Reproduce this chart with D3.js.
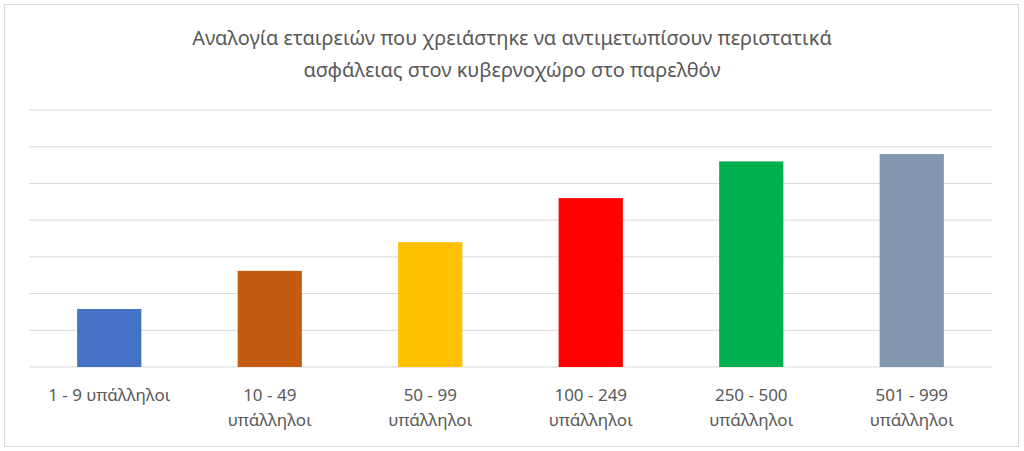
<!DOCTYPE html>
<html><head><meta charset="utf-8">
<script src="https://cdn.jsdelivr.net/npm/d3@7"></script>
<style>body{margin:0;background:#fff}text{font-family:"Noto Sans","Liberation Sans",sans-serif}</style>
</head><body>
<script>
// data (gridline step = 5)
var categories = ["1 - 9 υπάλληλοι", "10 - 49 υπάλληλοι", "50 - 99 υπάλληλοι", "100 - 249 υπάλληλοι", "250 - 500 υπάλληλοι", "501 - 999 υπάλληλοι"]
var values = [7.9, 13.1, 17.0, 23.0, 28.0, 29.0]
var colors = ["#4472c4", "#c55a11", "#ffc000", "#ff0000", "#00b050", "#8497b0"]
var ticks = [0, 5, 10, 15, 20, 25, 30, 35]

var W = 1024, H = 451
var svg = d3.select("body").append("svg").attr("width", W).attr("height", H)
svg.append("rect").attr("x", 4.5).attr("y", 4.5).attr("width", 1014).attr("height", 442)
  .attr("fill", "#fff").attr("stroke", "#d9d9d9")

var x = d3.scaleBand().domain(categories).range([29, 992]).paddingInner(0.6).paddingOuter(0.3)
var y = d3.scaleLinear().domain([0, 35]).range([367, 110])

svg.selectAll(".grid").data(ticks).enter().append("line")
  .attr("x1", 29).attr("x2", 992)
  .attr("y1", function(d){ return y(d) }).attr("y2", function(d){ return y(d) })
  .attr("stroke", "#d9d9d9").attr("stroke-width", 1)

svg.selectAll(".bar").data(values).enter().append("rect")
  .attr("x", function(d, i){ return x(categories[i]) })
  .attr("width", x.bandwidth())
  .attr("y", function(d){ return y(d) })
  .attr("height", function(d){ return y(0) - y(d) })
  .attr("fill", function(d, i){ return colors[i] })

svg.selectAll(".lbl").data(categories).enter().append("text")
  .attr("text-anchor", "middle").attr("font-size", 17).attr("fill", "#595959")
  .attr("transform", function(d){ return "translate(" + (x(d) + x.bandwidth()/2) + ",0)" })
  .each(function(d, i){
    var t = d3.select(this)
    if (i == 0) { t.append("tspan").attr("x", 0).attr("y", 401).text(d); return }
    var parts = d.split(" υπάλληλοι")
    t.append("tspan").attr("x", 0).attr("y", 401).text(parts[0])
    t.append("tspan").attr("x", 0).attr("y", 426).text("υπάλληλοι")
  })

var title = svg.append("text").attr("text-anchor", "middle").attr("font-size", 20).attr("fill", "#595959")
title.append("tspan").attr("x", 512).attr("y", 45).text("Αναλογία εταιρειών που χρειάστηκε να αντιμετωπίσουν περιστατικά")
title.append("tspan").attr("x", 512).attr("y", 77).text("ασφάλειας στον κυβερνοχώρο στο παρελθόν")
</script>
</body></html>
